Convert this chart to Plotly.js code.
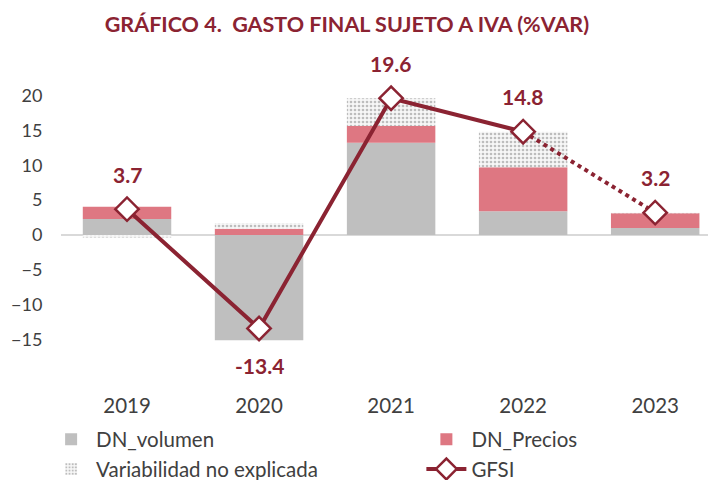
<!DOCTYPE html>
<html>
<head>
<meta charset="utf-8">
<script src="https://cdn.plot.ly/plotly-3.0.1.min.js"></script>
<style>html,body{margin:0;padding:0;background:#fff}#chart{width:708px;height:480px}</style>
</head>
<body>
<div id="chart"></div>
<script>
var years = ["2019", "2020", "2021", "2022", "2023"];
var dnVolumen = [2.3, -15.1, 13.2, 3.4, 1.0];
var dnPrecios = [1.75, 0.9, 2.4, 6.3, 2.1];
var variabilidad = [-0.35, 0.8, 4.0, 5.1, 0.1];
var gfsi = [3.7, -13.4, 19.6, 14.8, 3.2];
var labelPos = ["above", "below", "above", "above", "above"];

var dark = "#8B2332";
var font = "Lato, 'Open Sans', sans-serif";

var traces = [
  {type: "bar", name: "DN_volumen", x: years, y: dnVolumen, legend: "legend",
   marker: {color: "#BFBFBF"}, width: 0.67, hoverinfo: "skip"},
  {type: "bar", name: "DN_Precios", x: years, y: dnPrecios, legend: "legend2",
   marker: {color: "#DE7782"}, width: 0.67, hoverinfo: "skip"},
  {type: "bar", name: "Variabilidad no explicada", x: years, y: variabilidad, legend: "legend",
   marker: {color: "#F4F4F4", pattern: {shape: ".", fgcolor: "#BDBDBD", bgcolor: "#F7F7F7", size: 4, solidity: 0.35}},
   width: 0.67, hoverinfo: "skip"},
  {type: "scatter", mode: "lines", x: years.slice(3), y: gfsi.slice(3), showlegend: false,
   line: {color: dark, width: 4, dash: "dot"}, hoverinfo: "skip"},
  {type: "scatter", mode: "lines+markers", name: "GFSI", x: years.slice(0, 4), y: gfsi.slice(0, 4), legend: "legend2",
   line: {color: dark, width: 4},
   marker: {symbol: "diamond", size: 18, color: "#FFFFFF", line: {color: dark, width: 2.5}}, hoverinfo: "skip"},
  {type: "scatter", mode: "markers", x: years.slice(4), y: gfsi.slice(4), showlegend: false,
   marker: {symbol: "diamond", size: 18, color: "#FFFFFF", line: {color: dark, width: 2.5}}, hoverinfo: "skip"}
];

var annotations = years.map(function (yr, i) {
  return {xref: "x", yref: "y", x: i, y: gfsi[i], text: "<b>" + gfsi[i].toFixed(1) + "</b>", showarrow: false,
          yshift: labelPos[i] === "above" ? 35 : -37,
          font: {family: font, size: 21, color: dark}};
});

var legendFont = {family: font, size: 20.5, color: "#404040"};

var layout = {
  width: 708, height: 480,
  margin: {l: 61, r: 0, t: 40, b: 95, autoexpand: false},
  paper_bgcolor: "#fff", plot_bgcolor: "#fff",
  title: {text: "<b>GRÁFICO 4.  GASTO FINAL SUJETO A IVA (%VAR)</b>", x: 0.49, xanchor: "center", y: 0.948, yanchor: "middle",
          font: {family: font, size: 21.5, color: dark}},
  barmode: "relative",
  showlegend: true,
  legend: {orientation: "v", x: -0.023, xanchor: "left", y: -0.1, yanchor: "top",
           traceorder: "normal", font: legendFont, itemwidth: 40, tracegroupgap: 0, bgcolor: "rgba(0,0,0,0)"},
  legend2: {orientation: "v", x: 0.557, xanchor: "left", y: -0.1, yanchor: "top",
           traceorder: "normal", font: legendFont, itemwidth: 40, tracegroupgap: 0, bgcolor: "rgba(0,0,0,0)"},
  xaxis: {type: "category", range: [-0.5, 4.4], showgrid: false, zeroline: false, showline: false,
          ticks: "outside", ticklen: 2, tickcolor: "rgba(0,0,0,0)",
          tickfont: {family: font, size: 20.5, color: "#404040"}, fixedrange: true},
  yaxis: {range: [-21.5, 27.94], tickvals: [-15, -10, -5, 0, 5, 10, 15, 20], showgrid: false,
          zeroline: true, zerolinecolor: "#D9D9D9", zerolinewidth: 2, showline: false,
          ticks: "outside", ticklen: 14, tickcolor: "rgba(0,0,0,0)",
          tickfont: {family: font, size: 18, color: "#404040"}, fixedrange: true},
  annotations: annotations
};

Plotly.newPlot("chart", traces, layout, {staticPlot: true, displayModeBar: false});
</script>
</body>
</html>
